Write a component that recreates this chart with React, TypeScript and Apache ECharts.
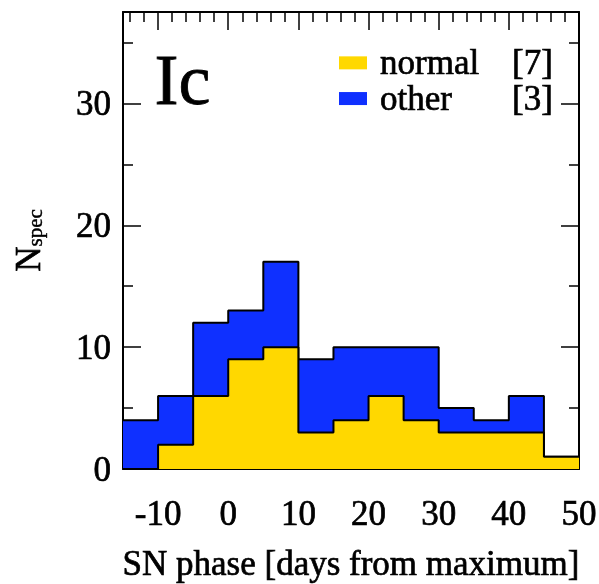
import React, { useEffect, useRef } from "react";
import * as echarts from "echarts";

// Histogram bins (left edges, days from maximum), width 5 days
const binStarts = [-15, -10, -5, 0, 5, 10, 15, 20, 25, 30, 35, 40, 45];
const binWidth = 5;
const normalCounts = [0, 2, 6, 9, 10, 3, 4, 6, 4, 3, 3, 3, 1];
const otherCounts = [4, 4, 6, 4, 7, 6, 6, 4, 6, 2, 1, 3, 0];

const seriesNames = ["normal", "other"];
const snCounts = [7, 3];

const xMajorTicks = [-10, 0, 10, 20, 30, 40, 50];
const xMinorTicks = [-14, -12, -8, -6, -4, -2, 2, 4, 6, 8, 12, 14, 16, 18, 22, 24, 26, 28, 32, 34, 36, 38, 42, 44, 46, 48];
const yMajorTicks = [0, 10, 20, 30];
const yMinorTicks = [5, 15, 25, 35];

const YELLOW = "#FFD800";
const BLUE = "#0F30FF";
const FONT = '"Liberation Serif", "Times New Roman", serif';
// slight outline to mimic the heavy rendering of the original serif text
const TB = { textBorderColor: "#000", textBorderWidth: 0.7 };

function stepData(counts: number[]) {
  const n = binStarts.length;
  const pts = binStarts.map((x, i) => [x, counts[i]]);
  pts.push([binStarts[n - 1] + binWidth, counts[n - 1]]);
  return pts;
}

// "other" is stacked on top of "normal": its upper edge is the total
const totalCounts = normalCounts.map((v, i) => v + otherCounts[i]);

const X_MIN = -15;
const X_MAX = 50;
const Y_MIN = 0;
const Y_MAX = 37.5;

function xAxisDef(position: "top" | "bottom", major: boolean, labels: boolean): any {
  return {
    type: "value",
    position,
    min: X_MIN,
    max: X_MAX,
    splitLine: { show: false },
    axisLine: { show: major, onZero: false, lineStyle: { color: "#000", width: 2 } },
    axisTick: {
      show: true,
      inside: true,
      length: major ? 18 : 10,
      customValues: major ? xMajorTicks : xMinorTicks,
      lineStyle: { color: "#000", width: 1.5 },
    },
    axisLabel: labels
      ? {
          show: true,
          customValues: xMajorTicks,
          color: "#000",
          fontFamily: FONT,
          fontSize: 35,
          margin: 27,
          ...TB,
        }
      : { show: false },
  };
}

function yAxisDef(position: "left" | "right", major: boolean, labels: boolean): any {
  return {
    type: "value",
    position,
    min: Y_MIN,
    max: Y_MAX,
    splitLine: { show: false },
    axisLine: { show: major, onZero: false, lineStyle: { color: "#000", width: 2 } },
    axisTick: {
      show: true,
      inside: true,
      length: major ? 18 : 10,
      customValues: major ? yMajorTicks : yMinorTicks,
      lineStyle: { color: "#000", width: 1.5 },
    },
    axisLabel: labels
      ? {
          show: true,
          customValues: yMajorTicks,
          color: "#000",
          fontFamily: FONT,
          fontSize: 35,
          margin: 12,
          ...TB,
        }
      : { show: false },
  };
}

export default function App() {
  const ref = useRef<HTMLDivElement>(null);

  useEffect(() => {
    if (!ref.current) return;
    const chart = echarts.init(ref.current, null, { renderer: "svg" });

    const xBottom = xAxisDef("bottom", true, true);
    xBottom.name = "SN phase [days from maximum]";
    xBottom.nameLocation = "middle";
    xBottom.nameGap = 77;
    xBottom.nameTextStyle = { color: "#000", fontFamily: FONT, fontSize: 35, ...TB };

    const yLeft = yAxisDef("left", true, true);
    yLeft.name = "{n|N}{s|spec}";
    yLeft.nameLocation = "middle";
    yLeft.nameGap = 78;
    yLeft.nameTextStyle = {
      color: "#000",
      fontFamily: FONT,
      ...TB,
      rich: {
        n: { fontFamily: FONT, fontSize: 35, lineHeight: 34, verticalAlign: "top", padding: [0, 0, 4, 0], color: "#000", ...TB },
        s: { fontFamily: FONT, fontSize: 21, lineHeight: 21, verticalAlign: "bottom", color: "#000", textBorderColor: "#000", textBorderWidth: 0.4 },
      },
    };

    const colors = [YELLOW, BLUE];
    const upperEdges = [normalCounts, totalCounts];

    chart.setOption({
      animation: false,
      grid: { left: 123, right: 20, top: 12, bottom: 115, containLabel: false, outerBoundsMode: "none" },
      xAxis: [
        xBottom,
        xAxisDef("bottom", false, false),
        xAxisDef("top", true, false),
        xAxisDef("top", false, false),
      ],
      yAxis: [
        yLeft,
        yAxisDef("left", false, false),
        yAxisDef("right", true, false),
        yAxisDef("right", false, false),
      ],
      legend: {
        orient: "vertical",
        left: 334,
        top: 40,
        icon: "rect",
        itemWidth: 28,
        itemHeight: 13,
        itemGap: 0,
        data: seriesNames.map((name, i) => ({ name, itemStyle: { color: colors[i], borderWidth: 0 } })),
        formatter: (name: string) => {
          const i = seriesNames.indexOf(name);
          return `{a|${name}}{b|[${snCounts[i]}]}`;
        },
        textStyle: {
          color: "#000",
          fontFamily: FONT,
          fontSize: 35,
          rich: {
            a: { fontFamily: FONT, fontSize: 35, lineHeight: 35, width: 132, padding: [0, 0, 0, 8], color: "#000", ...TB },
            b: { fontFamily: FONT, fontSize: 35, lineHeight: 35, color: "#000", ...TB },
          },
        },
      },
      graphic: [
        {
          type: "text",
          left: 154,
          top: 44,
          style: { text: "Ic", font: `72px ${FONT}`, fill: "#000", stroke: "#000", lineWidth: 0.8 },
        },
      ],
      series: seriesNames.map((name, i) => ({
        type: "line",
        name,
        step: "end",
        xAxisIndex: 0,
        yAxisIndex: 0,
        symbol: "none",
        showSymbol: false,
        data: stepData(upperEdges[i]),
        itemStyle: { color: colors[i] },
        lineStyle: { color: "#000", width: 2 },
        areaStyle: { color: colors[i], opacity: 1 },
        z: i === 0 ? 3 : 2,
      })),
    });

    return () => chart.dispose();
  }, []);

  return (
    <div
      ref={ref}
      style={{ position: "fixed", left: 0, top: 0, width: 599, height: 584 }}
    />
  );
}
